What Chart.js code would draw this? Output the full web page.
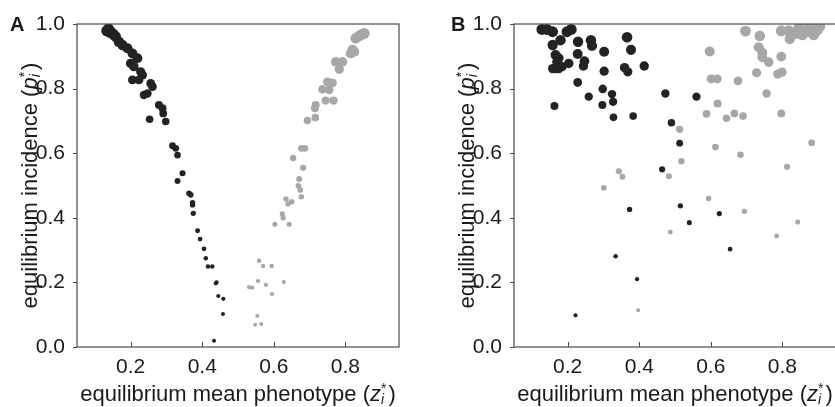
<!DOCTYPE html>
<html>
<head>
<meta charset="utf-8">
<script src="https://cdn.jsdelivr.net/npm/chart.js@4.4.1/dist/chart.umd.min.js"></script>
<style>
  html, body { margin:0; padding:0; background:#fff; width:835px; height:407px; overflow:hidden; }
  #wa { position:absolute; left:0; top:0; width:417px; height:407px; }
  #wb { position:absolute; left:417px; top:0; width:425px; height:407px; }
</style>
</head>
<body>
<div id="wa"><canvas id="ca" width="417" height="407"></canvas></div>
<div id="wb"><canvas id="cb" width="425" height="407"></canvas></div>
<script>
// ---- data ----
const xTicks = [0.2, 0.4, 0.6, 0.8];
const yTicks = [0.0, 0.2, 0.4, 0.6, 0.8, 1.0];

// Panel A
const aBlackX = [0.133,0.138,0.142,0.145,0.150,0.152,0.158,0.167,0.177,0.191,0.205,0.219,0.200,0.209,0.228,0.233,0.205,0.223,0.256,0.261,0.237,0.247,0.279,0.289,0.253,0.291,0.298,0.317,0.326,0.331,0.331,0.345,0.363,0.368,0.373,0.373,0.375,0.387,0.394,0.405,0.410,0.416,0.428,0.438,0.440,0.445,0.459,0.458,0.433];
const aBlackY = [0.979,0.985,0.974,0.975,0.970,0.968,0.961,0.945,0.935,0.925,0.909,0.894,0.878,0.868,0.852,0.842,0.827,0.827,0.816,0.806,0.780,0.785,0.749,0.739,0.705,0.723,0.698,0.623,0.615,0.594,0.514,0.538,0.476,0.471,0.447,0.440,0.414,0.360,0.334,0.304,0.275,0.249,0.249,0.197,0.200,0.158,0.149,0.102,0.019];
const aGreyX = [0.853,0.846,0.839,0.829,0.820,0.815,0.825,0.773,0.792,0.783,0.750,0.764,0.736,0.755,0.745,0.767,0.717,0.715,0.694,0.716,0.677,0.687,0.654,0.682,0.671,0.669,0.674,0.677,0.634,0.640,0.650,0.624,0.626,0.603,0.643,0.559,0.570,0.594,0.540,0.531,0.556,0.578,0.628,0.595,0.554,0.548,0.565];
const aGreyY = [0.971,0.968,0.963,0.956,0.920,0.909,0.914,0.883,0.883,0.860,0.821,0.818,0.798,0.796,0.763,0.763,0.749,0.739,0.701,0.710,0.615,0.615,0.585,0.555,0.520,0.499,0.486,0.465,0.458,0.443,0.450,0.412,0.400,0.380,0.380,0.267,0.251,0.251,0.184,0.185,0.204,0.192,0.201,0.164,0.097,0.069,0.071];

// Panel B
const bBlackX = [0.128,0.142,0.158,0.198,0.210,0.180,0.158,0.166,0.175,0.170,0.158,0.166,0.175,0.184,0.203,0.229,0.228,0.247,0.244,0.265,0.268,0.228,0.259,0.163,0.302,0.302,0.298,0.297,0.324,0.327,0.328,0.366,0.377,0.359,0.368,0.414,0.383,0.473,0.560,0.490,0.513,0.464,0.373,0.515,0.540,0.624,0.654,0.334,0.394,0.222];
const bBlackY = [0.983,0.983,0.976,0.976,0.983,0.950,0.935,0.904,0.894,0.883,0.862,0.862,0.862,0.868,0.878,0.945,0.907,0.885,0.870,0.950,0.933,0.819,0.775,0.746,0.914,0.854,0.799,0.749,0.783,0.759,0.711,0.959,0.920,0.865,0.852,0.870,0.715,0.785,0.775,0.694,0.631,0.550,0.426,0.437,0.385,0.413,0.303,0.281,0.210,0.098];
const bGreyX = [0.697,0.737,0.734,0.744,0.744,0.762,0.797,0.797,0.818,0.821,0.837,0.856,0.870,0.888,0.898,0.904,0.846,0.874,0.728,0.787,0.799,0.756,0.797,0.597,0.601,0.618,0.676,0.619,0.588,0.644,0.666,0.690,0.513,0.613,0.683,0.518,0.882,0.813,0.343,0.353,0.483,0.301,0.594,0.694,0.843,0.487,0.784,0.397];
const bGreyY = [0.978,0.963,0.928,0.911,0.897,0.882,0.899,0.979,0.979,0.954,0.971,0.966,0.976,0.966,0.981,0.992,0.987,0.992,0.849,0.845,0.851,0.785,0.723,0.915,0.830,0.830,0.824,0.754,0.722,0.708,0.723,0.715,0.674,0.619,0.595,0.575,0.632,0.558,0.544,0.527,0.529,0.493,0.460,0.420,0.387,0.356,0.344,0.114];

// ---- styling ----
const FAM = "'Liberation Sans', Arial, Helvetica, sans-serif";
const TXT = '#1a1a1a';
const AXC = '#4a4a4a';
const BLACK = '#232323';
const GREY = '#a7a7a7';

const pts = (xs, ys) => xs.map((x, i) => ({ x, y: ys[i] }));
const rad = y => 2.0 + 3.6 * y * y;

function drawTitle(ctx, base, sym, x, y, rotate) {
  const F = 22, S = 14;
  ctx.save();
  ctx.translate(x, y);
  if (rotate) ctx.rotate(-Math.PI / 2);
  ctx.fillStyle = TXT;
  ctx.textBaseline = 'alphabetic';
  ctx.textAlign = 'left';
  ctx.font = `${F}px ${FAM}`; const w1 = ctx.measureText(base).width;
  ctx.font = `italic ${F}px ${FAM}`; const w2 = ctx.measureText(sym).width;
  ctx.font = `${S}px ${FAM}`; const ws = ctx.measureText('*').width;
  ctx.font = `italic ${S}px ${FAM}`; const wi = ctx.measureText('i').width;
  const w3 = Math.max(ws, wi) + 2;
  ctx.font = `${F}px ${FAM}`; const w4 = ctx.measureText(')').width;
  let cx = -(w1 + w2 + w3 + w4) / 2;
  ctx.font = `${F}px ${FAM}`; ctx.fillText(base, cx, 0); cx += w1;
  ctx.font = `italic ${F}px ${FAM}`; ctx.fillText(sym, cx, 0); cx += w2;
  ctx.font = `${S}px ${FAM}`; ctx.fillText('*', cx, -8);
  ctx.font = `italic ${S}px ${FAM}`; ctx.fillText('i', cx, 3); cx += w3;
  ctx.font = `${F}px ${FAM}`; ctx.fillText(')', cx, 0);
  ctx.restore();
}

function decor(letter, letterX, yTitleX) {
  return {
    id: 'decor' + letter,
    afterDraw(chart) {
      const { ctx, chartArea: a, scales: { x, y } } = chart;
      ctx.save();
      ctx.strokeStyle = AXC;
      ctx.lineWidth = 1.2;
      ctx.strokeRect(a.left, a.top, a.right - a.left, a.bottom - a.top);
      ctx.lineWidth = 1;
      for (const v of xTicks) {
        const px = Math.round(x.getPixelForValue(v)) + 0.5;
        ctx.beginPath(); ctx.moveTo(px, a.bottom); ctx.lineTo(px, a.bottom - 5); ctx.stroke();
      }
      for (const v of yTicks) {
        const py = Math.round(y.getPixelForValue(v)) + 0.5;
        ctx.beginPath(); ctx.moveTo(a.left, py); ctx.lineTo(a.left - 4, py); ctx.stroke();
      }
      ctx.fillStyle = TXT;
      ctx.font = `bold 20px ${FAM}`;
      ctx.textAlign = 'left';
      ctx.textBaseline = 'alphabetic';
      ctx.fillText(letter, letterX, 31);
      ctx.restore();
      drawTitle(ctx, 'equilibrium mean phenotype (', 'z', (a.left + a.right) / 2, 401, false);
      drawTitle(ctx, 'equilibrium incidence (', 'p', yTitleX, (a.top + a.bottom) / 2, true);
    }
  };
}

function makeChart(id, blackX, blackY, greyX, greyY, yWidth, padRight, letter, letterX, yTitleX) {
  return new Chart(document.getElementById(id), {
    type: 'scatter',
    data: {
      datasets: [
        { data: pts(greyX, greyY), backgroundColor: GREY, borderWidth: 0,
          pointRadius: c => rad(c.raw.y), pointHoverRadius: c => rad(c.raw.y) },
        { data: pts(blackX, blackY), backgroundColor: BLACK, borderWidth: 0,
          pointRadius: c => rad(c.raw.y), pointHoverRadius: c => rad(c.raw.y) }
      ]
    },
    options: {
      responsive: false,
      animation: false,
      devicePixelRatio: 1,
      events: [],
      layout: { autoPadding: false, padding: { left: 0, right: padRight, top: 24, bottom: 0 } },
      plugins: { legend: { display: false }, tooltip: { enabled: false } },
      scales: {
        x: {
          type: 'linear', min: 0.05, max: 0.95,
          grid: { display: false }, border: { display: false },
          afterBuildTicks: s => { s.ticks = xTicks.map(v => ({ value: v })); },
          afterFit: s => { s.height = 60; },
          ticks: { color: TXT, font: { family: FAM, size: 21 }, padding: 0, maxRotation: 0,
                   callback: v => v.toFixed(1) }
        },
        y: {
          type: 'linear', min: 0, max: 1,
          grid: { display: false }, border: { display: false },
          afterBuildTicks: s => { s.ticks = yTicks.map(v => ({ value: v })); },
          afterFit: s => { s.width = yWidth; },
          ticks: { color: TXT, font: { family: FAM, size: 21 }, padding: 4,
                   callback: v => v.toFixed(1) }
        }
      }
    },
    plugins: [decor(letter, letterX, yTitleX)]
  });
}

makeChart('ca', aBlackX, aBlackY, aGreyX, aGreyY, 77, 18, 'A', 10, 37);
makeChart('cb', bBlackX, bBlackY, bGreyX, bGreyY, 97, 6, 'B', 34, 57);
</script>
</body>
</html>
